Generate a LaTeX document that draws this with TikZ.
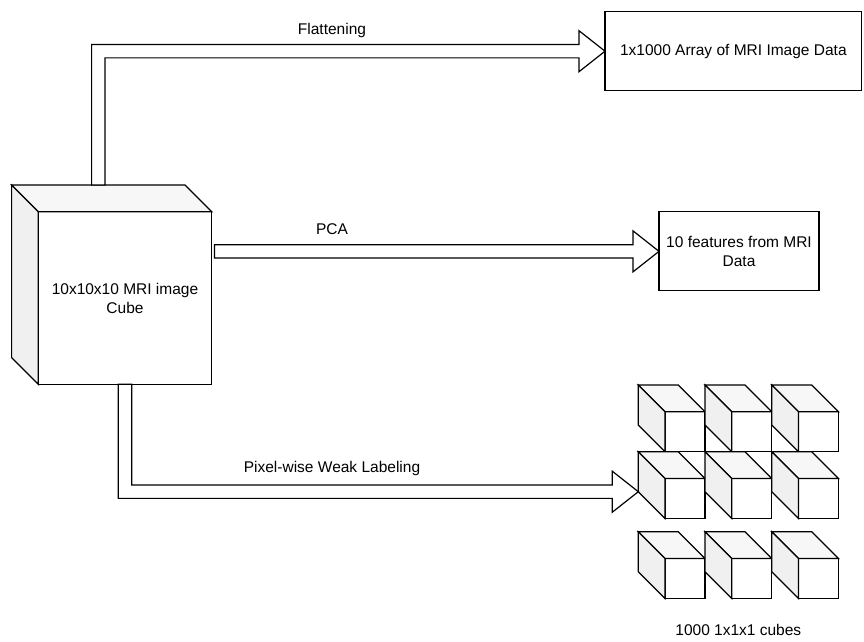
\documentclass[tikz,border=0pt]{standalone}
\usepackage{fontspec}
\setmainfont{Liberation Sans}
\usetikzlibrary{calc}
\newcommand\dfont{\fontsize{15.5pt}{19pt}\selectfont}
\tikzset{
  edge/.style={draw=black, line width=1.2pt, line join=miter},
  topface/.style={edge, fill=gray!6},
  sideface/.style={edge, fill=gray!12},
  frontface/.style={edge, fill=white, rectangle, inner sep=0pt, outer sep=0pt},
  databox/.style={edge, fill=white, rectangle, inner sep=0pt, outer sep=0pt, align=center, font=\dfont, minimum height=79pt},
  flexarrow/.style={edge, fill=white},
  lbl/.style={font=\dfont, inner sep=0pt}
}
\newcommand\minicube[3]{%
  \node[frontface, minimum size=40pt] (#1) at (#2+46.7,#3+46.7) {};
  \draw[topface] ($(#1.north west)+(-26.7,-26.7)$) -- ($(#1.north east)+(-26.7,-26.7)$) -- (#1.north east) -- (#1.north west) -- cycle;
  \draw[sideface] ($(#1.north west)+(-26.7,-26.7)$) -- (#1.north west) -- (#1.south west) -- ($(#1.south west)+(-26.7,-26.7)$) -- cycle;
}
\begin{document}
\begin{tikzpicture}[x=1pt,y=-1pt]
\useasboundingbox (0,0) rectangle (864,641);

% big cube
\node[frontface, minimum width=173.4pt, minimum height=172.6pt, align=center, font=\dfont] (big) at (125,298) {10x10x10 MRI image\\Cube};
\draw[topface] ($(big.north west)+(-26.7,-26.7)$) -- ($(big.north east)+(-26.7,-26.7)$) -- (big.north east) -- (big.north west) -- cycle;
\draw[sideface] ($(big.north west)+(-26.7,-26.7)$) -- (big.north west) -- (big.south west) -- ($(big.south west)+(-26.7,-26.7)$) -- cycle;

% target boxes
\node[databox, minimum width=256.7pt] (box1) at (733.35,51.2) {1x1000 Array of MRI Image Data};
\node[databox, minimum width=160pt] (box2) at (739,251.35) {10 features from MRI\\Data};

% small cubes
\minicube{c11}{638.3}{385}
\minicube{c12}{705}{385}
\minicube{c13}{771.7}{385}
\minicube{c21}{638.3}{451.7}
\minicube{c22}{705}{451.7}
\minicube{c23}{771.7}{451.7}
\minicube{c31}{638.3}{531.7}
\minicube{c32}{705}{531.7}
\minicube{c33}{771.7}{531.7}
\node[lbl] (cubeslbl) at (738.3,630) {1000 1x1x1 cubes};

% Flattening arrow
\coordinate (fs) at ($(big.north west)+(60,-26.7)$);
\coordinate (ft) at (box1.west);
\coordinate (fc) at (fs|-ft);
\draw[flexarrow] ($(fs)+(-6.67,0)$) -- ($(fc)+(-6.67,-6.67)$) -- ($(ft)+(-26,-6.67)$) -- ($(ft)+(-26,-20.5)$) -- (ft) -- ($(ft)+(-26,20.5)$) -- ($(ft)+(-26,6.67)$) -- ($(fc)+(6.67,6.67)$) -- ($(fs)+(6.67,0)$) -- cycle;
\node[lbl] (flatlbl) at (332,30) {Flattening};

% PCA arrow
\coordinate (pt) at (box2.west);
\coordinate (ps) at ($(big.east|-pt)+(2.7,0)$);
\draw[flexarrow] ($(ps)+(0,-6.67)$) -- ($(pt)+(-26,-6.67)$) -- ($(pt)+(-26,-20.5)$) -- (pt) -- ($(pt)+(-26,20.5)$) -- ($(pt)+(-26,6.67)$) -- ($(ps)+(0,6.67)$) -- cycle;
\node[lbl] (pcalbl) at (332,229) {PCA};

% Pixel-wise arrow
\coordinate (ws) at (big.south);
\coordinate (wt) at ($(c21.south west)+(-26.7,-26.7)$);
\coordinate (wc) at (ws|-wt);
\draw[flexarrow] ($(ws)+(-6.67,0)$) -- ($(wc)+(-6.67,6.67)$) -- ($(wt)+(-26,6.67)$) -- ($(wt)+(-26,20.5)$) -- (wt) -- ($(wt)+(-26,-20.5)$) -- ($(wt)+(-26,-6.67)$) -- ($(wc)+(6.67,-6.67)$) -- ($(ws)+(6.67,0)$) -- cycle;
\node[lbl] (pixlbl) at (332,468) {Pixel-wise Weak Labeling};
\end{tikzpicture}
\end{document}
